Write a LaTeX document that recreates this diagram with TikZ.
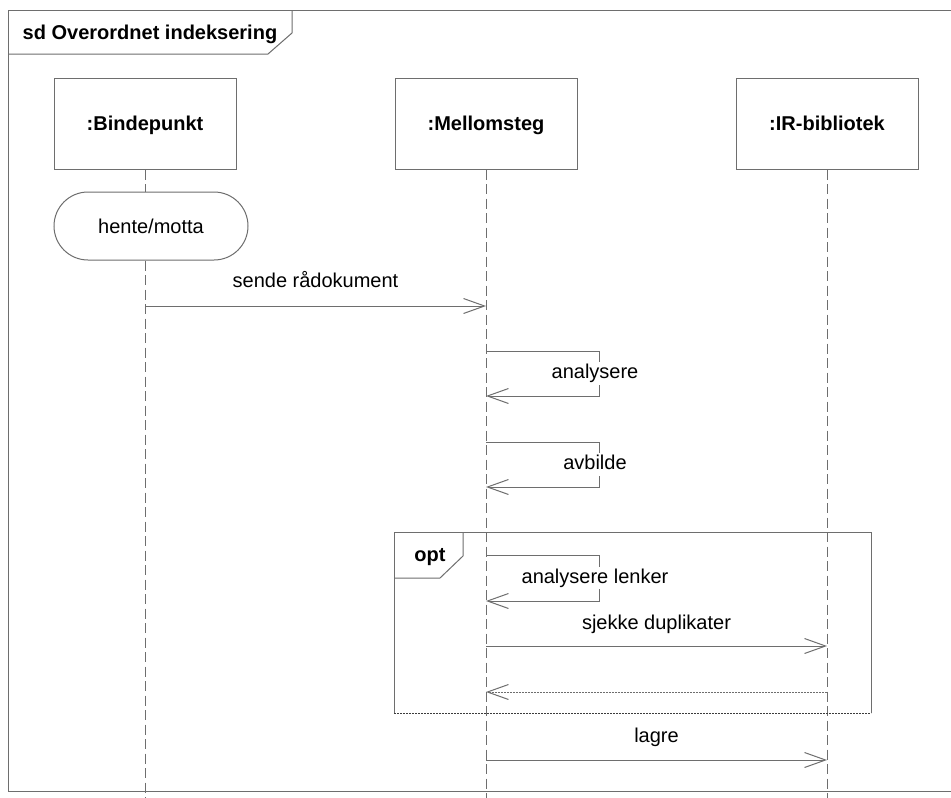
\documentclass[tikz,border=0pt]{standalone}
\usepackage{fontspec}
\setmainfont{Liberation Sans}
\usetikzlibrary{arrows.meta}
\definecolor{linegray}{RGB}{110,110,110}
\definecolor{darkline}{RGB}{60,60,60}
\begin{document}
\begin{tikzpicture}[x=1pt,y=-1pt,
  every node/.style={font=\fontsize{20}{24}\selectfont, inner sep=0pt, text=black},
  frameline/.style={draw=linegray, line width=1pt},
  objbox/.style={draw=linegray, line width=1pt, minimum width=182pt, minimum height=91pt,
    font=\fontsize{20}{24}\selectfont\bfseries, text height=14.3pt, text depth=0pt},
  stadium/.style={draw=linegray, line width=1pt, rounded corners=34pt,
    minimum width=194pt, minimum height=68pt, text height=14.3pt, text depth=0pt},
  lifeline/.style={draw=linegray, line width=1pt, dash pattern=on 10pt off 4.5pt},
  msg/.style={draw=linegray, line width=1pt, -{Straight Barb[length=21pt,width=15pt]}},
  reply/.style={msg, dash pattern=on 2pt off 1pt},
  msglabel/.style={text height=14.5pt, text depth=4.2pt},
  selflabel/.style={msglabel, fill=white, inner sep=2pt},
  taglabel/.style={font=\fontsize{20}{24}\selectfont\bfseries, text height=14.3pt, text depth=0pt},
]
\useasboundingbox (0,0) rectangle (951,798);
\fill[white] (0,0) rectangle (951,798);

% outer frame with its name tag
\draw[frameline] (951,10.5) -- (8.5,10.5) -- (8.5,791) -- (951,791);
\draw[frameline] (8.5,54) -- (268,54) -- (292,33) -- (292,10.5);
\node[taglabel] (title) at (150,32.5) {sd Overordnet indeksering};

% participants
\node[objbox] (bp) at (145,123.5) {:Bindepunkt};
\node[objbox] (ms) at (486,123.5) {:Mellomsteg};
\node[objbox] (ir) at (827,123.5) {:IR-bibliotek};

% local action on the first lifeline
\node[stadium] (hm) at (151,226) {hente/motta};

% lifeline ends
\coordinate (bpEnd) at (145,798);
\coordinate (msEnd) at (486,798);
\coordinate (irEnd) at (827,798);

\draw[lifeline] (bp.south) -- (bp.south |- hm.north);
\draw[lifeline] (bp.south |- hm.south) -- (bpEnd);
\draw[lifeline] (ms.south) -- (msEnd);
\draw[lifeline] (ir.south) -- (irEnd);

% message end points
\coordinate (m1a) at (145,306);   \coordinate (m1b) at (486,306);
\coordinate (s1a) at (486,351);   \coordinate (s1b) at (486,396);
\coordinate (s2a) at (486,442);   \coordinate (s2b) at (486,487);
\coordinate (s3a) at (486,555);   \coordinate (s3b) at (486,601);
\coordinate (m2a) at (486,646);   \coordinate (m2b) at (827,646);
\coordinate (r1a) at (827,692);   \coordinate (r1b) at (486,692);
\coordinate (m3a) at (486,760);   \coordinate (m3b) at (827,760);

% opt fragment
\draw[frameline] (394,713) -- (394,532) -- (871,532) -- (871,713);
\draw[draw=darkline, line width=1pt, dash pattern=on 2pt off 1pt] (394,713) -- (871,713);
\draw[frameline] (394,578) -- (440,578) -- (463,556) -- (463,532);
\node[taglabel] (opt) at (430,554) {opt};

% messages
\draw[msg] (m1a) -- node[msglabel, yshift=24pt] {sende rådokument} (m1b);
\draw[msg] (s1a) -- ++(113,0) |- node[pos=0.25, selflabel, xshift=-4pt] {analysere} (s1b);
\draw[msg] (s2a) -- ++(113,0) |- node[pos=0.25, selflabel, xshift=-4pt] {avbilde} (s2b);
\draw[msg] (s3a) -- ++(113,0) |- node[pos=0.25, selflabel, xshift=-4pt] {analysere lenker} (s3b);
\draw[msg] (m2a) -- node[msglabel, yshift=22pt] {sjekke duplikater} (m2b);
\draw[reply] (r1a) -- (r1b);
\draw[msg] (m3a) -- node[msglabel, yshift=23pt] {lagre} (m3b);
\end{tikzpicture}
\end{document}
